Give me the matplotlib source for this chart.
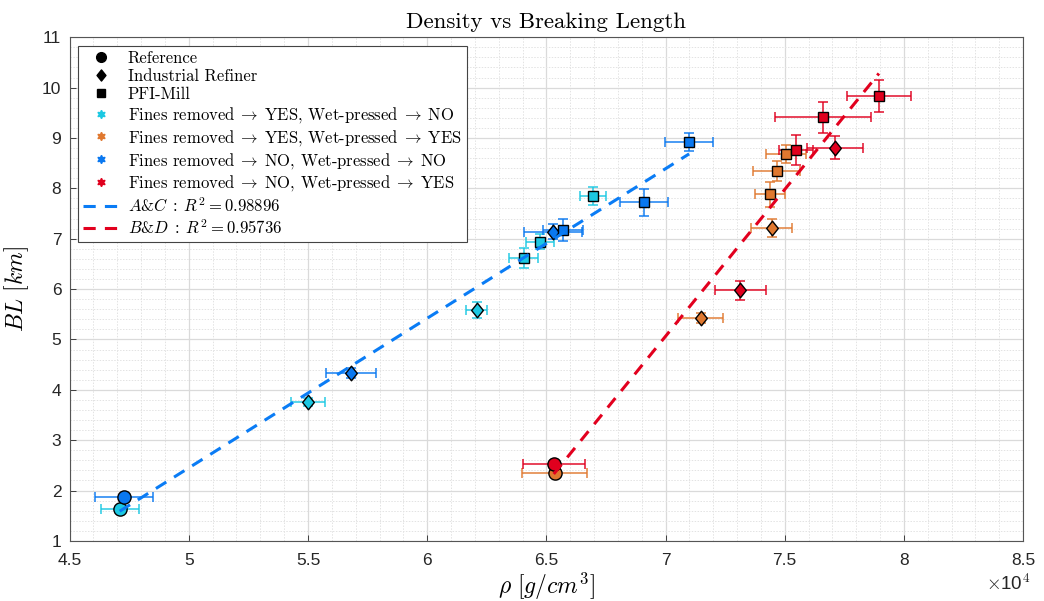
import numpy as np
import matplotlib
matplotlib.use("Agg")
import matplotlib.pyplot as plt
from matplotlib.lines import Line2D
from matplotlib.path import Path
from matplotlib.ticker import MultipleLocator, FuncFormatter

plt.rcParams['mathtext.fontset'] = 'cm'
plt.rcParams['axes.unicode_minus'] = False

# ---------------- data ----------------
# kinds: 'ref' = Reference, 'ind' = Industrial Refiner, 'pfi' = PFI-Mill
# A: Fines removed YES, Wet-pressed NO (cyan)
a_kind = ['ref', 'ind', 'ind', 'pfi', 'pfi', 'pfi']
a_rho = [47100, 55000, 62070, 64050, 64720, 66960]
a_bl = [1.635, 3.752, 5.583, 6.609, 6.94, 7.845]
a_rho_err = [800, 700, 450, 600, 580, 550]
a_bl_err = [0.04, 0.08, 0.16, 0.2, 0.15, 0.18]

# B: Fines removed YES, Wet-pressed YES (orange)
b_kind = ['ref', 'ind', 'ind', 'pfi', 'pfi', 'pfi']
b_rho = [65350, 71470, 74450, 74370, 74660, 75070]
b_bl = [2.343, 5.418, 7.216, 7.88, 8.35, 8.69]
b_rho_err = [1370, 930, 850, 630, 1000, 840]
b_bl_err = [0.04, 0.1, 0.18, 0.25, 0.2, 0.18]

# C: Fines removed NO, Wet-pressed NO (blue)
c_kind = ['ref', 'ind', 'ind', 'pfi', 'pfi', 'pfi']
c_rho = [47280, 56820, 65280, 65700, 69090, 70990]
c_bl = [1.867, 4.34, 7.137, 7.17, 7.72, 8.92]
c_rho_err = [1200, 1050, 1200, 830, 1000, 1000]
c_bl_err = [0.04, 0.1, 0.15, 0.22, 0.27, 0.17]

# D: Fines removed NO, Wet-pressed YES (red)
d_kind = ['ref', 'ind', 'ind', 'pfi', 'pfi', 'pfi']
d_rho = [65310, 73140, 77100, 75470, 76610, 78950]
d_bl = [2.528, 5.98, 8.81, 8.76, 9.407, 9.835]
d_rho_err = [1300, 1070, 1170, 700, 2000, 1350]
d_bl_err = [0.04, 0.19, 0.22, 0.3, 0.31, 0.32]

group_labels = [r'Fines removed$\;\rightarrow\;$YES, Wet-pressed$\;\rightarrow\;$NO',
                r'Fines removed$\;\rightarrow\;$YES, Wet-pressed$\;\rightarrow\;$YES',
                r'Fines removed$\;\rightarrow\;$NO, Wet-pressed$\;\rightarrow\;$NO',
                r'Fines removed$\;\rightarrow\;$NO, Wet-pressed$\;\rightarrow\;$YES']
kind_labels = {'ref': 'Reference', 'ind': 'Industrial Refiner', 'pfi': 'PFI-Mill'}
r2_ac = 0.98896
r2_bd = 0.95736

# ---------------- style ----------------
col_a = '#1CC8E2'
col_b = '#E0782F'
col_c = '#0A78F0'
col_d = '#E0001E'
diamond = Path([(0, 1), (0.8, 0), (0, -1), (-0.8, 0), (0, 1)],
               [Path.MOVETO, Path.LINETO, Path.LINETO, Path.LINETO, Path.CLOSEPOLY])
markers = {'ref': 'o', 'ind': diamond, 'pfi': 's'}
msizes = {'ref': 9.5, 'ind': 10.5, 'pfi': 7.5}

fig = plt.figure(figsize=(10.44, 6.01), dpi=100)
ax = fig.add_axes([0.0667, 0.1, 0.9133, 0.838])

groups = [(a_kind, a_rho, a_bl, a_rho_err, a_bl_err, col_a),
          (b_kind, b_rho, b_bl, b_rho_err, b_bl_err, col_b),
          (c_kind, c_rho, c_bl, c_rho_err, c_bl_err, col_c),
          (d_kind, d_rho, d_bl, d_rho_err, d_bl_err, col_d)]

for kind, rho, bl, rerr, berr, col in groups:
    for k, x, y, xe, ye in zip(kind, rho, bl, rerr, berr):
        ax.errorbar(x, y, xerr=xe, yerr=ye, fmt='none', ecolor=col, elinewidth=1.3,
                    capsize=3.5, capthick=1.3, alpha=0.8, zorder=3)
        ax.plot(x, y, marker=markers[k], markersize=msizes[k], markerfacecolor=col,
                markeredgecolor='black', markeredgewidth=1.0, linestyle='none', zorder=4)

# linear fits
ac_x = np.array(a_rho + c_rho, dtype=float)
ac_y = np.array(a_bl + c_bl, dtype=float)
bd_x = np.array(b_rho + d_rho, dtype=float)
bd_y = np.array(b_bl + d_bl, dtype=float)
p_ac = np.polyfit(ac_x, ac_y, 1)
p_bd = np.polyfit(bd_x, bd_y, 1)
xs_ac = np.array([ac_x.min(), ac_x.max()])
xs_bd = np.array([bd_x.min(), bd_x.max()])
ax.plot(xs_ac, np.polyval(p_ac, xs_ac), linestyle=(0, (4, 3)), color='#0A7CF5', lw=2.2, zorder=5)
ax.plot(xs_bd, np.polyval(p_bd, xs_bd), linestyle=(0, (4, 3)), color='#E2001E', lw=2.2, zorder=5)

# axes
ax.set_xlim(45000, 85000)
ax.set_ylim(1, 11)
ax.xaxis.set_major_locator(MultipleLocator(5000))
ax.xaxis.set_minor_locator(MultipleLocator(1000))
ax.yaxis.set_major_locator(MultipleLocator(1))
ax.yaxis.set_minor_locator(MultipleLocator(0.2))
ax.xaxis.set_major_formatter(FuncFormatter(lambda v, p: f'{v/1e4:g}'))
ax.yaxis.set_major_formatter(FuncFormatter(lambda v, p: f'{v:g}'))
ax.grid(which='major', color='#DADADA', lw=0.9, zorder=0)
ax.grid(which='minor', color='#E3E3E3', lw=0.7, linestyle=(0, (1.5, 1.5)), zorder=0)
ax.set_axisbelow(True)
ax.tick_params(which='both', direction='in', top=False, right=False, labelsize=12.5,
               colors='#262626')
ax.tick_params(which='minor', length=0)
ax.tick_params(axis='x', which='major', length=4, width=0.6, pad=9)
ax.tick_params(axis='y', which='major', length=4, width=0.6, pad=6)
for lab in ax.get_xticklabels() + ax.get_yticklabels():
    lab.set_fontfamily('Liberation Sans')
for s in ax.spines.values():
    s.set_color('#555555')
    s.set_linewidth(0.8)

ax.text(1.008, -0.064, r'$\times$10$^4$', transform=ax.transAxes, ha='right', va='top',
        fontsize=13.5, family='Liberation Sans', color='#262626')

ax.set_title('Density vs Breaking Length', fontsize=16.5, family='cmr10', pad=7)
ax.set_xlabel(r'$\rho\ [g/cm^3]$', fontsize=17, labelpad=2)
ax.set_ylabel(r'$BL\ [km]$', fontsize=17, labelpad=8)

# legend
hexa = (6, 1, 0)
handles = [Line2D([], [], marker=markers[k], color='black', linestyle='none',
                  markersize={'ref': 7, 'ind': 8, 'pfi': 5.5}[k]) for k in ['ref', 'ind', 'pfi']]
labels = [kind_labels[k] for k in ['ref', 'ind', 'pfi']]
for col, lab in zip([col_a, col_b, col_c, col_d], group_labels):
    handles.append(Line2D([], [], marker=hexa, color=col, linestyle='none', markersize=6))
    labels.append(lab)
handles.append(Line2D([], [], color='#0A7CF5', linestyle=(0, (4, 3)), lw=2.2))
labels.append(r'$A$&$C\;:\;R^2 = %.5f$' % r2_ac)
handles.append(Line2D([], [], color='#E2001E', linestyle=(0, (4, 3)), lw=2.2))
labels.append(r'$B$&$D\;:\;R^2 = %.5f$' % r2_bd)

leg = ax.legend(handles, labels, loc='upper left', prop={'family': 'cmr10', 'size': 12},
                fancybox=False, framealpha=1, edgecolor='#444444', borderaxespad=0.5,
                labelspacing=0.17, handlelength=2.2, handletextpad=0.5, borderpad=0.3)
leg.get_frame().set_linewidth(0.8)

fig.savefig('out.png', dpi=100)
